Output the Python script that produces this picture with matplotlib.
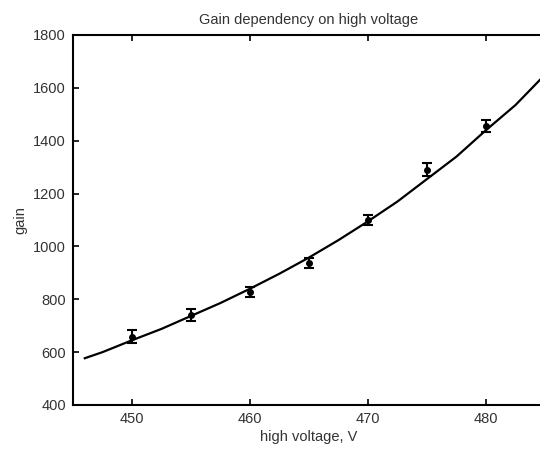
import matplotlib.pyplot as plt

# measured points
voltage = [450, 455, 460, 465, 470, 475, 480]
gain = [658, 740, 828, 937, 1100, 1290, 1455]
gain_err = [25, 22, 20, 20, 20, 25, 22]

# fitted curve
fit_voltage = [446, 447.5, 450, 452.5, 455, 457.5, 460, 462.5, 465, 467.5,
               470, 472.5, 475, 477.5, 480, 482.5, 485]
fit_gain = [577, 600, 645, 688, 737, 786, 840, 897, 958, 1024,
            1095, 1170, 1255, 1340, 1440, 1535, 1650]

x_ticks = [450, 460, 470, 480]
y_ticks = [400, 600, 800, 1000, 1200, 1400, 1600, 1800]

plt.rcParams['font.family'] = ['Liberation Sans', 'DejaVu Sans']
fig = plt.figure(figsize=(5.4, 4.5), dpi=100)
# axes run a little past the right edge of the picture, as in the original
ax = fig.add_axes([73/540, 45/450, 472/540, 370/450])

ax.plot(fit_voltage, fit_gain, color='black', lw=1.6)
ax.errorbar(voltage, gain, yerr=gain_err, fmt='o', color='black', ms=4,
            elinewidth=1.5, capsize=3.5, capthick=1.5)

ax.set_xlim(445, 485)
ax.set_ylim(400, 1800)
ax.set_xticks(x_ticks)
ax.set_yticks(y_ticks)
ax.tick_params(direction='in', length=4, width=1.2, top=True, right=False,
               labelsize=10.5, labelcolor='#333333', pad=5)
for s in ax.spines.values():
    s.set_linewidth(1.5)

ax.set_title('Gain dependency on high voltage', fontsize=10.5, color='#333333', pad=8)
ax.set_xlabel('high voltage, V', fontsize=10.5, color='#333333', labelpad=3)
ax.set_ylabel('gain', fontsize=10.5, color='#333333', labelpad=4)

fig.savefig('out.png', dpi=100)
